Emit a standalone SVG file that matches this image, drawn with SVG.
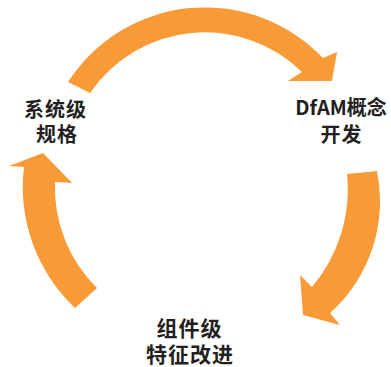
<svg xmlns="http://www.w3.org/2000/svg" width="391" height="367" viewBox="0 0 391 367">
<style>
.arrow{fill:#f89a35;stroke:none}
.lbl{font-family:"Noto Sans CJK SC","Noto Sans",sans-serif;font-weight:bold;font-size:20px;fill:#231f20;text-anchor:middle;letter-spacing:1px}
.big{font-size:21px}
</style>
<rect width="391" height="367" fill="#ffffff"/>
<g id="connectors">
<path class="arrow" d="M68,82 A163,163 0 0 1 323,58 L337,52 L332,81 L288,81 L302,72 A139,139 0 0 0 90,93 Z"/>
<path class="arrow" d="M347,174 L377,171 A150,150 0 0 1 330,313 L340,325 L303,315 L300,275 L312,287 A151,151 0 0 0 347,174 Z"/>
<path class="arrow" d="M75,308 A166,166 0 0 1 24,167 L9,166 L43,153 L72,183 L55,182 A141,141 0 0 0 97,288 Z"/>
</g>
<g id="node-system">
<text class="lbl" x="55.5" y="117">系统级</text>
<text class="lbl" x="57" y="142">规格</text>
</g>
<g id="node-dfam">
<text class="lbl" x="341" y="115" style="letter-spacing:0">DfAM概念</text>
<text class="lbl" x="341.5" y="142">开发</text>
</g>
<g id="node-component">
<text class="lbl big" x="189.5" y="336">组件级</text>
<text class="lbl big" x="190" y="361.5">特征改进</text>
</g>
</svg>
